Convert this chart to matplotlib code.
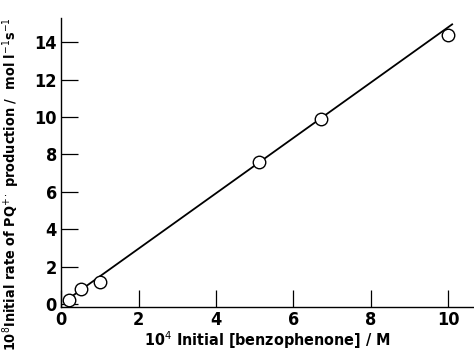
import matplotlib
matplotlib.use("Agg")
import matplotlib.pyplot as plt

# measured points
conc = [0.2, 0.5, 1.0, 5.1, 6.72, 10.0]
rate = [0.2, 0.8, 1.2, 7.6, 9.9, 14.4]

# drawn straight line
fit_x = [0.1, 10.1]
fit_y = [0.15, 14.95]

xticks = [0, 2, 4, 6, 8, 10]
yticks = [0, 2, 4, 6, 8, 10, 12, 14]

plt.rcParams['font.family'] = ['DejaVu Sans']
plt.rcParams['font.stretch'] = 'condensed'
plt.rcParams['mathtext.fontset'] = 'dejavusans'

fig = plt.figure(figsize=(4.74, 3.56), dpi=100)
ax = fig.add_axes([0.129, 0.138, 0.869, 0.812])

ax.plot(fit_x, fit_y, color="black", lw=1.3, zorder=2)
ax.plot(conc, rate, "o", ms=9, mfc="white", mec="black", mew=1.0, zorder=3)

ax.set_xlim(0, 10.64)
ax.set_ylim(-0.15, 15.3)
ax.set_xticks(xticks)
ax.set_yticks(yticks)
ax.tick_params(direction="in", length=12, width=0.9, labelsize=13, pad=3)
for lab in ax.get_xticklabels() + ax.get_yticklabels():
    lab.set_fontweight("bold")
    lab.set_fontstretch("condensed")

for s in ["top", "right"]:
    ax.spines[s].set_visible(False)
for s in ["left", "bottom"]:
    ax.spines[s].set_linewidth(1.0)

ax.set_xlabel(r"10$^{4}$ Initial [benzophenone] / M", fontsize=11.5,
              fontweight="bold", fontstretch="condensed", labelpad=0)
ax.set_ylabel(r"10$^{8}$Initial rate of PQ$^{+\cdot}$ production /  mol l$^{-1}$s$^{-1}$",
              fontsize=10.4, fontweight="bold", fontstretch="condensed")
ax.yaxis.set_label_coords(-0.095, 0.425)

fig.savefig("out.png", dpi=100)
